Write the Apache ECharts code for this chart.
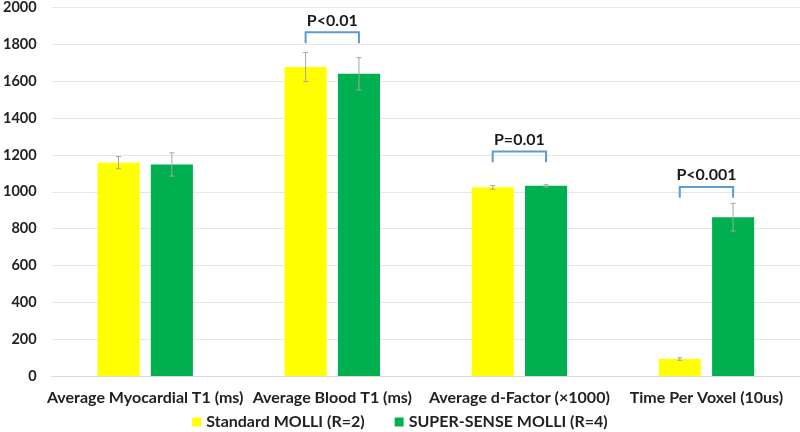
<!DOCTYPE html>
<html><head><meta charset="utf-8">
<script src="https://cdn.jsdelivr.net/npm/echarts@6/dist/echarts.min.js"></script>
<style>html,body{margin:0;padding:0;background:#fff}#c{width:800px;height:432px}</style>
</head><body><div id="c"></div>
<script>
var categories = ['Average Myocardial T1 (ms)', 'Average Blood T1 (ms)', 'Average d-Factor (\u00d71000)', 'Time Per Voxel (10us)'];
var seriesNames = ['Standard MOLLI (R=2)', 'SUPER-SENSE MOLLI (R=4)'];
var standardValues = [1158, 1677, 1024, 92];
var standardErrors = [33, 79, 10, 7];
var superValues = [1148, 1640, 1032, 862];
var superErrors = [63, 88, 6, 75];
// brackets: [category index, top value, leg-bottom value, label]
var brackets = [
  [1, 1865, 1806, 'P<0.01'],
  [2, 1218, 1160, 'P=0.01'],
  [3, 1026, 967, 'P<0.001']
];
var yTicks = [0, 200, 400, 600, 800, 1000, 1200, 1400, 1600, 1800, 2000];

var BAR_W = 0.225, GAP = 0.267;
function barOffset(api, side) {
  var band = api.size([1, 0])[0];
  return side * band * (BAR_W + BAR_W * GAP) / 2;
}
function errorSeries(values, errors, side) {
  return {
    type: 'custom', silent: true, z: 5,
    data: values.map(function (v, i) { return [i, v - errors[i], v + errors[i]]; }),
    renderItem: function (params, api) {
      var off = barOffset(api, side);
      var lo = api.coord([api.value(0), api.value(1)]);
      var hi = api.coord([api.value(0), api.value(2)]);
      var x = lo[0] + off, c = 2.5;
      var st = { stroke: '#a6a6a6', lineWidth: 1 };
      return { type: 'group', children: [
        { type: 'line', shape: { x1: x, y1: lo[1], x2: x, y2: hi[1] }, style: st },
        { type: 'line', shape: { x1: x - c, y1: lo[1], x2: x + c, y2: lo[1] }, style: st },
        { type: 'line', shape: { x1: x - c, y1: hi[1], x2: x + c, y2: hi[1] }, style: st }
      ]};
    }
  };
}

var chart = echarts.init(document.getElementById('c'));
chart.setOption({
  animation: false,
  textStyle: { fontFamily: 'Lato' },
  grid: { left: 47, right: 0, top: 5, bottom: 56 },
  legend: {
    top: 409, left: 'center', itemWidth: 9, itemHeight: 9, itemGap: 30,
    icon: 'rect',
    textStyle: { fontSize: 16, fontWeight: 'bold', color: '#222', fontFamily: 'Lato' },
    data: seriesNames
  },
  xAxis: {
    type: 'category', data: categories,
    axisLine: { lineStyle: { color: '#d9d9d9' } },
    axisTick: { show: false },
    axisLabel: { fontSize: 16, fontWeight: 'bold', color: '#222', margin: 14, interval: 0 }
  },
  yAxis: {
    type: 'value', min: 0, max: 2000, interval: 200,
    axisLine: { show: false }, axisTick: { show: false },
    splitLine: { lineStyle: { color: '#e6e6e6' } },
    axisLabel: { fontSize: 14.5, fontWeight: 'bold', color: '#222', margin: 15,
      formatter: function (v) { return yTicks.indexOf(v) >= 0 ? String(v) : ''; } }
  },
  series: [
    { name: seriesNames[0], type: 'bar', data: standardValues, barWidth: (BAR_W * 100) + '%', barGap: (GAP * 100) + '%',
      itemStyle: { color: '#ffff00' } },
    { name: seriesNames[1], type: 'bar', data: superValues, barWidth: (BAR_W * 100) + '%',
      itemStyle: { color: '#00b050' } },
    errorSeries(standardValues, standardErrors, -1),
    errorSeries(superValues, superErrors, 1),
    {
      type: 'custom', silent: true, z: 6,
      data: brackets,
      renderItem: function (params, api) {
        var off = barOffset(api, 1);
        var top = api.coord([api.value(0), api.value(1)]);
        var bot = api.coord([api.value(0), api.value(2)]);
        var x1 = top[0] - off, x2 = top[0] + off;
        var st = { stroke: '#5b9bd5', lineWidth: 2, fill: null };
        return { type: 'group', children: [
          { type: 'polyline', shape: { points: [[x1, bot[1]], [x1, top[1]], [x2, top[1]], [x2, bot[1]]] }, style: st },
          { type: 'text', style: { text: brackets[params.dataIndex][3], x: top[0], y: top[1] - 4,
            textAlign: 'center', textVerticalAlign: 'bottom', fontSize: 16, fontWeight: 'bold',
            fontFamily: 'Lato', fill: '#1a1a1a' } }
        ]};
      }
    }
  ]
});
</script></body></html>
